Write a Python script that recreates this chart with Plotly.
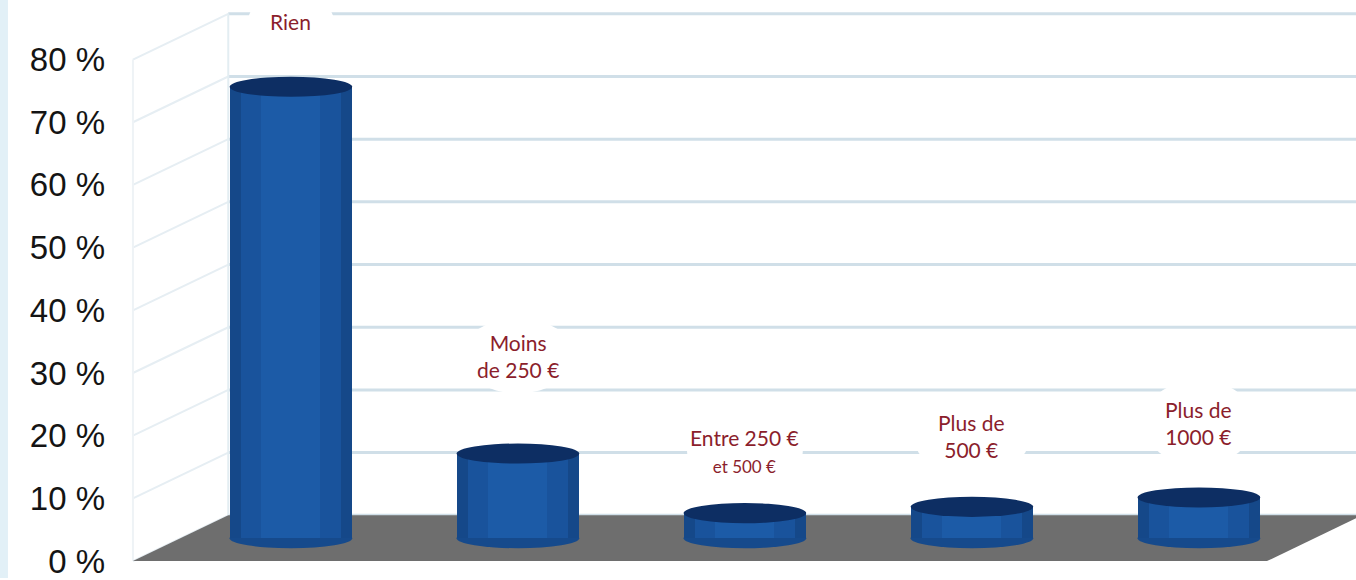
import plotly.graph_objects as go

# ---- data ----
categories = ["Rien", "Moins de 250 €", "Entre 250 € et 500 €", "Plus de 500 €", "Plus de 1000 €"]
values = [72, 13.5, 4, 5, 6.5]
tick_values = [0, 10, 20, 30, 40, 50, 60, 70, 80]
tick_labels = ["0 %", "10 %", "20 %", "30 %", "40 %", "50 %", "60 %", "70 %", "80 %"]
bubble_texts = [
    "Rien",
    "Moins<br>de 250 €",
    "Entre 250 €<br><span style='font-size:17px'>et 500 €</span>",
    "Plus de<br>500 €",
    "Plus de<br>1000 €",
]

# ---- layout constants (pseudo-3D geometry, in axis units) ----
DEPTH_DY = 7.3      # vertical shift of back wall
DEPTH_DX = 0.42     # horizontal shift of back wall
FLOOR_X0 = -0.696   # front-left corner of floor
FLOOR_X1 = 4.30     # front-right corner of floor
BASE = DEPTH_DY / 2  # cylinders stand mid-depth
BAR_W = 0.54
CAP_H = 1.6
bubble_y = [86.0, 32.75, 17.5, 20.0, 22.1]
bubble_half = [(0.19, 4.8), (0.25, 6.0), (0.255, 4.8), (0.255, 6.9), (0.245, 6.8)]

xs = list(range(len(categories)))

fig = go.Figure()

# cylinder bodies (layered for shading)
for w, col in [(BAR_W, "#154889"), (0.44, "#19539c"), (0.26, "#1c5ba7")]:
    fig.add_trace(go.Bar(
        x=xs, y=values, base=[BASE] * len(values), width=w,
        marker=dict(color=col, line=dict(width=0)),
        hoverinfo="skip", showlegend=False,
    ))

shapes = []
# light blue strip at far left
shapes.append(dict(type="rect", xref="paper", yref="paper", x0=-0.0883, x1=-0.0819,
                   y0=0, y1=1, fillcolor="#e2f0f7", line=dict(width=0), layer="below"))

grid_col = "#d0dfe8"
# back wall gridlines
for v in tick_values:
    shapes.append(dict(type="line", xref="x", yref="y",
                       x0=FLOOR_X0 + DEPTH_DX, x1=5.0, y0=v + DEPTH_DY, y1=v + DEPTH_DY,
                       line=dict(color=grid_col, width=3), layer="below"))
    # side wall lines
    shapes.append(dict(type="line", xref="x", yref="y",
                       x0=FLOOR_X0, x1=FLOOR_X0 + DEPTH_DX, y0=v, y1=v + DEPTH_DY,
                       line=dict(color="#e6eef3", width=2), layer="below"))
# wall verticals
shapes.append(dict(type="line", xref="x", yref="y", x0=FLOOR_X0 + DEPTH_DX, x1=FLOOR_X0 + DEPTH_DX,
                   y0=DEPTH_DY, y1=80 + DEPTH_DY, line=dict(color="#e3edf2", width=2), layer="below"))
shapes.append(dict(type="line", xref="x", yref="y", x0=FLOOR_X0, x1=FLOOR_X0,
                   y0=0, y1=80, line=dict(color="#eef3f6", width=2), layer="below"))

# floor
shapes.append(dict(type="path", xref="x", yref="y",
                   path=f"M {FLOOR_X0} 0 L {FLOOR_X0 + DEPTH_DX} {DEPTH_DY} "
                        f"L {FLOOR_X1 + DEPTH_DX} {DEPTH_DY} L {FLOOR_X1} 0 Z",
                   fillcolor="#6e6e6e", line=dict(width=0), layer="below"))

# cylinder bottoms and tops
for x, v in zip(xs, values):
    shapes.append(dict(type="circle", xref="x", yref="y",
                       x0=x - BAR_W / 2, x1=x + BAR_W / 2, y0=BASE - CAP_H, y1=BASE + CAP_H,
                       fillcolor="#164a8c", line=dict(width=0), layer="below"))
    shapes.append(dict(type="circle", xref="x", yref="y",
                       x0=x - BAR_W / 2, x1=x + BAR_W / 2,
                       y0=BASE + v - CAP_H, y1=BASE + v + CAP_H,
                       fillcolor="#0d2e63", line=dict(width=0), layer="above"))

# white label bubbles
for x, yb, (hx, hy) in zip(xs, bubble_y, bubble_half):
    shapes.append(dict(type="circle", xref="x", yref="y",
                       x0=x - hx, x1=x + hx, y0=yb - hy, y1=yb + hy,
                       fillcolor="white", line=dict(width=0), layer="above"))

annotations = []
for x, yb, t in zip(xs, bubble_y, bubble_texts):
    annotations.append(dict(x=x, y=yb, xref="x", yref="y", text=t, showarrow=False,
                            font=dict(family="Lato, Noto Sans, sans-serif", size=21, color="#8b1e2c"),
                            align="center"))

fig.update_layout(
    width=1356, height=580,
    margin=dict(l=110, r=0, t=0, b=0),
    paper_bgcolor="white", plot_bgcolor="white",
    barmode="overlay", bargap=0,
    showlegend=False,
    shapes=shapes, annotations=annotations,
    xaxis=dict(range=[-0.797, 4.692], showgrid=False, zeroline=False,
               showticklabels=False, showline=False, fixedrange=True),
    yaxis=dict(range=[-2.7, 89.5], showgrid=False, zeroline=False, showline=False,
               tickvals=tick_values, ticktext=tick_labels, ticks="",
               tickfont=dict(family="Liberation Sans, Arial, sans-serif", size=33, color="#141414"),
               ticklabelstandoff=4, ticklabeloverflow="allow", fixedrange=True),
)

fig.write_html("out.html", config={"displayModeBar": False, "staticPlot": True},
               post_script="document.body.style.margin='0';document.body.style.overflow='hidden';")
